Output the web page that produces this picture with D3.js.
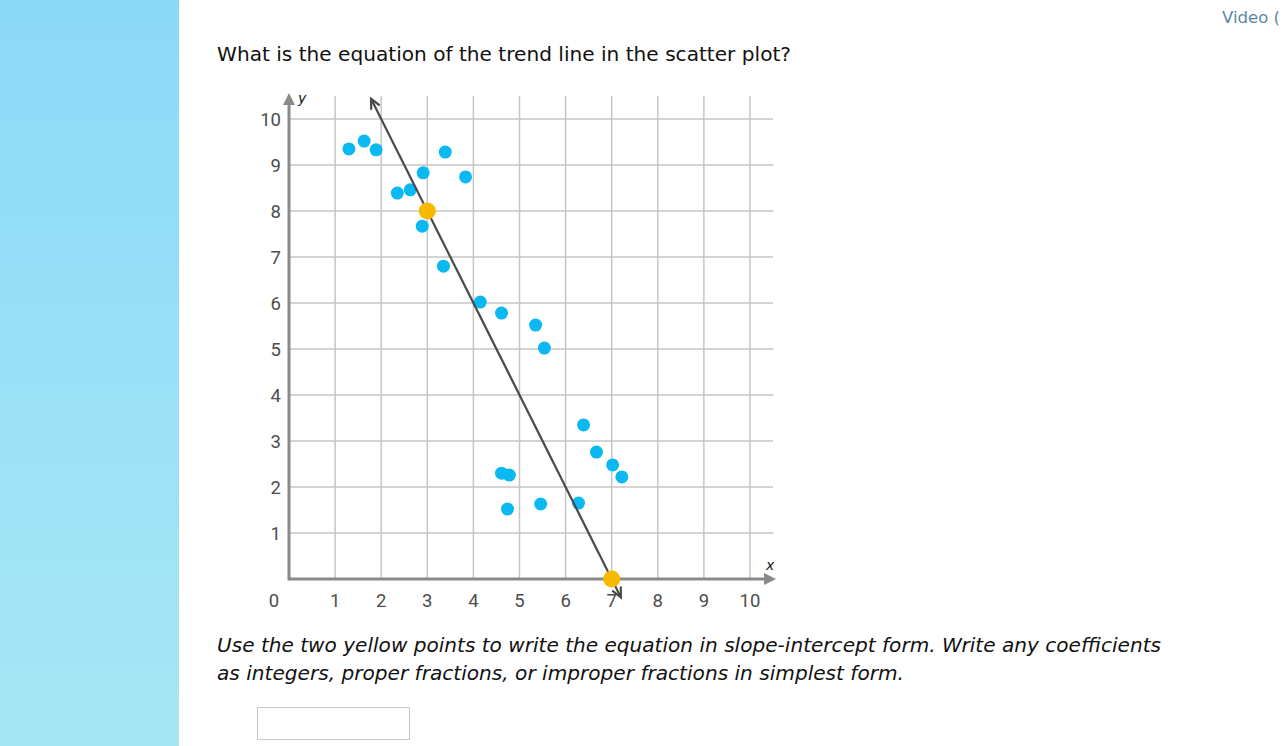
<!DOCTYPE html>
<html><head><meta charset="utf-8">
<script src="https://cdn.jsdelivr.net/npm/d3@7"></script>
<style>
html,body{margin:0;padding:0;background:#fff;overflow:hidden;}
svg{display:block;}
</style></head>
<body>
<svg id="c" width="1282" height="746"></svg>
<script>
const xTicks = [1,2,3,4,5,6,7,8,9,10];
const yTicks = [1,2,3,4,5,6,7,8,9,10];
const pointsX = [1.30,1.63,1.89,2.35,2.63,2.91,3.39,3.83,2.89,3.35,4.15,4.61,5.35,5.54,6.39,6.67,7.02,7.22,4.61,4.78,4.74,5.46,6.28];
const pointsY = [9.35,9.52,9.33,8.39,8.46,8.83,9.28,8.74,7.67,6.80,6.02,5.78,5.52,5.02,3.35,2.76,2.48,2.22,2.30,2.26,1.52,1.63,1.65];
const yellowX = [3,7];
const yellowY = [8,0];
const trendX = [1.78,7.2];
const slope = -2, intercept = 14;

const svg = d3.select("#c");
const defs = svg.append("defs");
const g1 = defs.append("linearGradient").attr("id","side").attr("x1",0).attr("y1",0).attr("x2",0).attr("y2",1);
g1.append("stop").attr("offset","0%").attr("stop-color","#8cd9f8");
g1.append("stop").attr("offset","100%").attr("stop-color","#a7e7f5");
svg.append("rect").attr("x",0).attr("y",0).attr("width",179).attr("height",746).attr("fill","url(#side)");

svg.append("text").attr("x",1222).attr("y",23).attr("font-family","DejaVu Sans, Verdana, sans-serif")
  .attr("font-size",16.5).attr("fill","#5a87a6").text("Video (");

svg.append("text").attr("x",217).attr("y",61).attr("font-family","DejaVu Sans, Verdana, sans-serif")
  .attr("font-size",19).attr("fill","#111").attr("textLength",574).attr("lengthAdjust","spacingAndGlyphs")
  .text("What is the equation of the trend line in the scatter plot?");

const x = d3.scaleLinear().domain([0,10]).range([289,750]);
const y = d3.scaleLinear().domain([0,10]).range([579,119]);

const grid = svg.append("g");
grid.selectAll("line.v").data(xTicks).join("line")
  .attr("x1",d=>x(d)).attr("x2",d=>x(d)).attr("y1",y(10.5)).attr("y2",y(0))
  .attr("stroke","#c6c6c6").attr("stroke-width",1.5);
grid.selectAll("line.h").data(yTicks).join("line")
  .attr("y1",d=>y(d)).attr("y2",d=>y(d)).attr("x1",x(0)).attr("x2",x(10.5))
  .attr("stroke","#c6c6c6").attr("stroke-width",1.5);

// axes
const ax = svg.append("g");
ax.append("line").attr("x1",x(0)).attr("x2",x(10.5)-2).attr("y1",y(0)).attr("y2",y(0)).attr("stroke","#8a8a8a").attr("stroke-width",3);
ax.append("line").attr("x1",x(0)).attr("x2",x(0)).attr("y1",y(0)+1.5).attr("y2",y(10.5)+2).attr("stroke","#8a8a8a").attr("stroke-width",3);
ax.append("path").attr("d",`M${x(10.5)+3},${y(0)} l-12,-6 l0,12 z`).attr("fill","#8a8a8a");
ax.append("path").attr("d",`M${x(0)},${y(10.5)-3} l-6,12 l12,0 z`).attr("fill","#8a8a8a");

const tickFont = "Roboto, sans-serif";
svg.append("g").selectAll("text").data(xTicks).join("text")
  .attr("x",d=>x(d)).attr("y",y(0)+28).attr("text-anchor","middle")
  .attr("font-family",tickFont).attr("font-size",18.5).attr("fill","#4d4d4d").text(d=>d);
svg.append("g").selectAll("text").data(yTicks).join("text")
  .attr("x",x(0)-8).attr("y",d=>y(d)+6.5).attr("text-anchor","end")
  .attr("font-family",tickFont).attr("font-size",18.5).attr("fill","#4d4d4d").text(d=>d);
svg.append("text").attr("x",x(0)-15).attr("y",y(0)+28).attr("text-anchor","middle")
  .attr("font-family",tickFont).attr("font-size",18.5).attr("fill","#4d4d4d").text("0");
svg.append("text").attr("x",x(0)+9).attr("y",y(10.5)+7).attr("font-family","DejaVu Sans, sans-serif")
  .attr("font-style","italic").attr("font-size",14).attr("fill","#111").text("y");
svg.append("text").attr("x",x(10.5)-7).attr("y",y(0)-9).attr("font-family","DejaVu Sans, sans-serif")
  .attr("font-style","italic").attr("font-size",14).attr("fill","#111").text("x");

// points
const pts = pointsX.map((v,i)=>({x:v,y:pointsY[i]}));
svg.append("g").selectAll("circle").data(pts).join("circle")
  .attr("cx",d=>x(d.x)).attr("cy",d=>y(d.y)).attr("r",6.5).attr("fill","#0ab9f1");

// trend line
const tl = trendX.map(v=>({x:v,y:slope*v+intercept}));
svg.append("line").attr("x1",x(tl[0].x)).attr("y1",y(tl[0].y)).attr("x2",x(tl[1].x)).attr("y2",y(tl[1].y))
  .attr("stroke","#4a4a4a").attr("stroke-width",2.2);
function arrowHead(px,py,ang){
  const L=11, a=0.45;
  const p1=[px-L*Math.cos(ang-a), py-L*Math.sin(ang-a)];
  const p2=[px-L*Math.cos(ang+a), py-L*Math.sin(ang+a)];
  svg.append("path").attr("d",`M${p1[0]},${p1[1]} L${px},${py} L${p2[0]},${p2[1]}`)
    .attr("fill","none").attr("stroke","#4a4a4a").attr("stroke-width",2.2);
}
const ax1=x(tl[0].x), ay1=y(tl[0].y), ax2=x(tl[1].x), ay2=y(tl[1].y);
arrowHead(ax1,ay1,Math.atan2(ay1-ay2,ax1-ax2));
arrowHead(ax2,ay2,Math.atan2(ay2-ay1,ax2-ax1));

const yp = yellowX.map((v,i)=>({x:v,y:yellowY[i]}));
svg.append("g").selectAll("circle").data(yp).join("circle")
  .attr("cx",d=>x(d.x)).attr("cy",d=>y(d.y)).attr("r",8.5).attr("fill","#f7b900");

svg.append("text").attr("x",217).attr("y",652).attr("font-family","DejaVu Sans, Verdana, sans-serif")
  .attr("font-style","italic").attr("font-size",19).attr("fill","#111").attr("textLength",944).attr("lengthAdjust","spacingAndGlyphs")
  .text("Use the two yellow points to write the equation in slope-intercept form. Write any coefficients");
svg.append("text").attr("x",217).attr("y",680).attr("font-family","DejaVu Sans, Verdana, sans-serif")
  .attr("font-style","italic").attr("font-size",19).attr("fill","#111").attr("textLength",687).attr("lengthAdjust","spacingAndGlyphs")
  .text("as integers, proper fractions, or improper fractions in simplest form.");

svg.append("rect").attr("x",257.5).attr("y",707.5).attr("width",152).attr("height",32)
  .attr("fill","#fff").attr("stroke","#c8c8c8").attr("stroke-width",1);
</script>
</body></html>
